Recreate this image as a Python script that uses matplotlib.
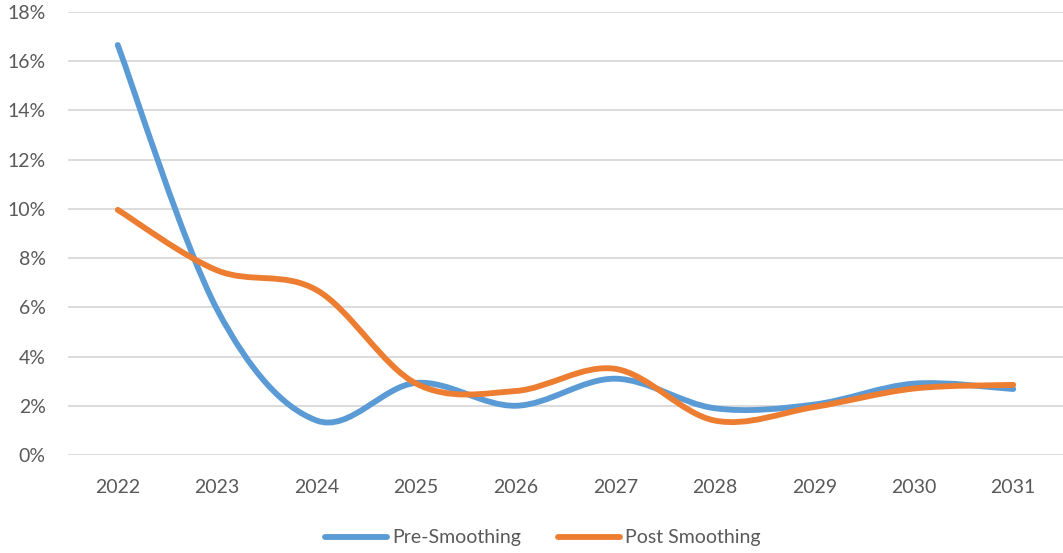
import numpy as np
import matplotlib
matplotlib.use("Agg")
from matplotlib import pyplot as plt
from matplotlib.path import Path
from matplotlib.patches import PathPatch
from matplotlib.lines import Line2D
from matplotlib.ticker import FuncFormatter

years = ["2022", "2023", "2024", "2025", "2026", "2027", "2028", "2029", "2030", "2031"]
pre_smoothing = [16.66, 5.9, 1.4, 2.93, 2.0, 3.1, 1.9, 2.05, 2.9, 2.68]
post_smoothing = [9.96, 7.5, 6.7, 2.9, 2.6, 3.5, 1.4, 1.95, 2.7, 2.85]

BLUE = "#5B9BD5"
ORANGE = "#ED7D31"
GRID = "#D9D9D9"
TEXT = "#595959"


def smooth_path(xs, ys):
    # Excel-style smoothed line: cubic bezier with catmull-rom control points
    pts = np.column_stack([xs, ys]).astype(float)
    ext = np.vstack([pts[0], pts, pts[-1]])
    verts = [pts[0]]
    codes = [Path.MOVETO]
    for i in range(len(pts) - 1):
        p0, p1, p2, p3 = ext[i], ext[i + 1], ext[i + 2], ext[i + 3]
        c1 = p1 + (p2 - p0) / 6.0
        c2 = p2 - (p3 - p1) / 6.0
        verts += [c1, c2, p2]
        codes += [Path.CURVE4] * 3
    return Path(verts, codes)


plt.rcParams['font.family'] = ['Lato', 'DejaVu Sans']

fig = plt.figure(figsize=(10.63, 5.53), dpi=100)
ax = fig.add_axes([68 / 1063, (553 - 455) / 553, 1 - 68 / 1063, (455 - 12) / 553])

x = np.arange(len(years))
for vals, color in [(pre_smoothing, BLUE), (post_smoothing, ORANGE)]:
    path = smooth_path(x, vals)
    ax.add_patch(PathPatch(path, fill=False, edgecolor=color, lw=4.2,
                           capstyle="round", joinstyle="round", zorder=3))

ax.set_xlim(-0.5, len(years) - 0.5)
ax.set_ylim(0, 18)
ax.set_yticks(np.arange(0, 19, 2))
ax.yaxis.set_major_formatter(FuncFormatter(lambda v, p: f"{v:.0f}%"))
ax.set_xticks(x)
ax.set_xticklabels(years)

ax.grid(axis="y", color=GRID, lw=1.3)
ax.set_axisbelow(True)
for s in ax.spines.values():
    s.set_visible(False)
ax.tick_params(axis="both", length=0, labelsize=14, colors=TEXT)
ax.tick_params(axis="y", pad=16)
ax.tick_params(axis="x", pad=17)

handles = [Line2D([], [], color=BLUE, lw=4.2, solid_capstyle="round"),
           Line2D([], [], color=ORANGE, lw=4.2, solid_capstyle="round")]
fig.legend(handles, ["Pre-Smoothing", "Post Smoothing"], loc="center",
           bbox_to_anchor=(543 / 1063, 1 - 538 / 553), ncol=2, frameon=False,
           fontsize=14, labelcolor=TEXT, handlelength=3.2, handletextpad=0.25,
           columnspacing=1.9)

fig.savefig("out.png", dpi=100)
